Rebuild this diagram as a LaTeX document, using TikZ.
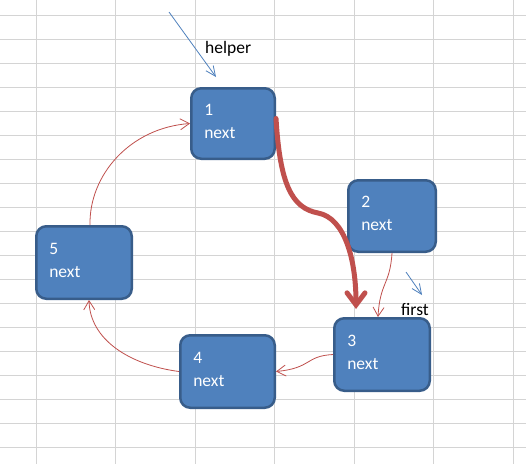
\documentclass[tikz,border=0pt]{standalone}
\usepackage{fontspec}
\setmainfont{Carlito}
\usetikzlibrary{arrows.meta,calc}
\definecolor{boxfill}{HTML}{4F81BD}
\definecolor{boxline}{HTML}{385D8A}
\definecolor{linkred}{HTML}{C0504D}
\definecolor{ptrblue}{HTML}{4F81BD}
\definecolor{gridgray}{HTML}{D4D4D4}
\begin{document}
\begin{tikzpicture}[x=1pt,y=-1pt,
  cell/.style={rectangle, rounded corners=10pt, draw=boxline, fill=boxfill, line width=2.5pt, text=white, align=left, inner xsep=13pt, inner ysep=0pt, text depth=28pt, font=\fontsize{17.5}{23}\selectfont},
  link/.style={draw=linkred, line width=0.8pt, -{Straight Barb[length=9pt,width=11pt]}},
  bigmove/.style={draw=linkred, line width=5pt, line cap=round, -{Straight Barb[length=12pt,width=18pt,line cap=round]}},
  ptr/.style={draw=ptrblue, line width=0.8pt, -{Straight Barb[length=10pt,width=9pt]}},
  lbl/.style={anchor=base west, inner sep=0pt, font=\fontsize{17.5}{21}\selectfont},
  gridline/.style={draw=gridgray, line width=1pt}]
\useasboundingbox[fill=white] (0,0) rectangle (526,464);
% sheet grid
\foreach \gx in {36,115.5,195,274.5,354,433.5,513}
  \draw[gridline] (\gx,0) -- (\gx,464);
\foreach \gy in {0,...,18}
  \draw[gridline] (0,{15.3+24*\gy}) -- (526,{15.3+24*\gy});
% list nodes
\node[cell, text width=57.5pt, minimum height=70.5pt] (nd1) at (233,123.5) {1\\next};
\node[cell, text width=61.5pt, minimum height=71.5pt] (nd2) at (392,216) {2\\next};
\node[cell, text width=69.5pt, minimum height=72.5pt] (nd3) at (382,354.5) {3\\next};
\node[cell, text width=68.5pt, minimum height=72.5pt] (nd4) at (227.5,371.5) {4\\next};
\node[cell, text width=69.5pt, minimum height=72.5pt] (nd5) at (84,262.5) {5\\next};
% pointers
\node[lbl] (helper) at (205,53) {helper};
\node[lbl] (first) at (401,315) {first};
\coordinate (hs) at (169,12);
\coordinate (he) at (216,77);
\coordinate (fs) at (406,272);
\coordinate (fe) at (422,295);
\draw[ptr] (hs) -- (he);
\draw[ptr] (fs) -- (fe);
% next links
\draw[link] ($(nd5.north)+(6,0)$) .. controls (89,175) and (130,128) .. (nd1.west);
\draw[link] (nd4.west) .. controls (130,365) and (90,340) .. ($(nd5.south)+(5,0)$);
\draw[link] (nd3.west) .. controls (305,356) and (312,368) .. (nd4.east);
\draw[link] (nd2.south) .. controls (390,285) and (380,282) .. ($(nd3.north)+(-4,0)$);
\draw[bigmove] ($(nd1.east)+(0,-5)$) .. controls (280,185) and (292,208) .. (318,213)
  .. controls (345,218) and (356,260) .. ($(nd3.north)+(-26,-8)$);
\end{tikzpicture}
\end{document}
